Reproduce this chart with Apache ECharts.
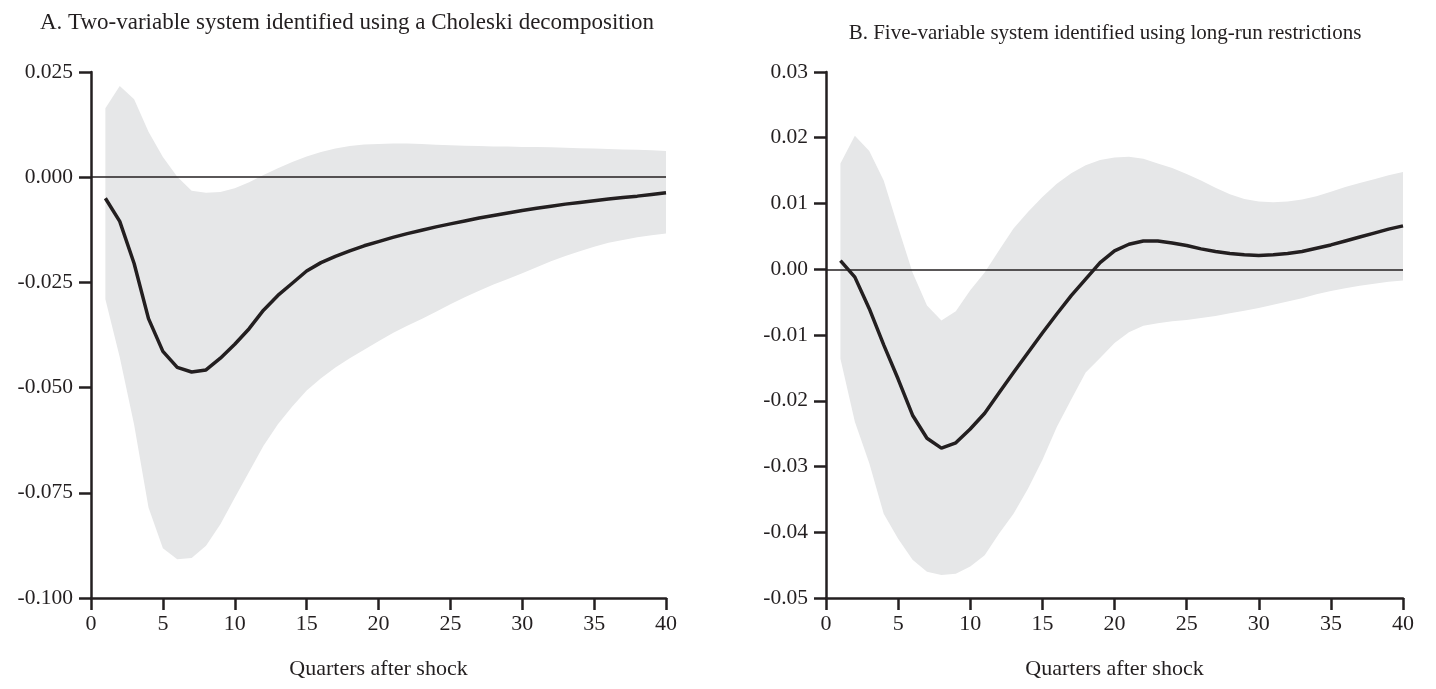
<!DOCTYPE html>
<html>
<head>
<meta charset="utf-8">
<script src="https://cdn.jsdelivr.net/npm/echarts@6/dist/echarts.min.js"></script>
<style>
html,body{margin:0;padding:0;background:#fff;}
#c{width:1436px;height:689px;}
</style>
</head>
<body>
<div id="c"></div>
<script>
// Quarters after shock
const quarters = [1,2,3,4,5,6,7,8,9,10,11,12,13,14,15,16,17,18,19,20,21,22,23,24,25,26,27,28,29,30,31,32,33,34,35,36,37,38,39,40];

// Panel A: two-variable system (Choleski)
const meanA = [-0.0050,-0.0105,-0.0205,-0.0336,-0.0414,-0.0452,-0.0463,-0.0458,-0.0430,-0.0397,-0.0360,-0.0316,-0.0281,-0.0252,-0.0223,-0.0203,-0.0188,-0.0175,-0.0163,-0.0153,-0.0143,-0.0134,-0.0126,-0.0118,-0.0111,-0.0104,-0.0097,-0.0091,-0.0085,-0.0079,-0.0074,-0.0069,-0.0064,-0.0060,-0.0056,-0.0052,-0.0048,-0.0045,-0.0041,-0.0037];
const upperA = [0.0164,0.0217,0.0185,0.0108,0.0048,0.0001,-0.0032,-0.0037,-0.0035,-0.0026,-0.0012,0.0005,0.0021,0.0036,0.0049,0.0060,0.0068,0.0074,0.0078,0.0079,0.0080,0.0080,0.0079,0.0077,0.0076,0.0075,0.0074,0.0073,0.0073,0.0072,0.0072,0.0071,0.0070,0.0069,0.0068,0.0067,0.0066,0.0065,0.0064,0.0062];
const lowerA = [-0.0290,-0.0428,-0.0588,-0.0785,-0.0882,-0.0908,-0.0905,-0.0876,-0.0825,-0.0762,-0.0700,-0.0638,-0.0587,-0.0545,-0.0507,-0.0478,-0.0452,-0.0430,-0.0410,-0.0390,-0.0370,-0.0353,-0.0337,-0.0320,-0.0302,-0.0285,-0.0270,-0.0255,-0.0242,-0.0228,-0.0214,-0.0200,-0.0187,-0.0176,-0.0165,-0.0156,-0.0149,-0.0143,-0.0138,-0.0134];

// Panel B: five-variable system (long-run restrictions)
const meanB = [0.0013,-0.0012,-0.0060,-0.0115,-0.0167,-0.0222,-0.0257,-0.0272,-0.0264,-0.0243,-0.0219,-0.0188,-0.0157,-0.0127,-0.0097,-0.0068,-0.0040,-0.0015,0.0010,0.0028,0.0038,0.0043,0.0043,0.0040,0.0036,0.0031,0.0027,0.0024,0.0022,0.0021,0.0022,0.0024,0.0027,0.0032,0.0037,0.0043,0.0049,0.0055,0.0061,0.0066];
const upperB = [0.0161,0.0203,0.0180,0.0135,0.0064,-0.0005,-0.0055,-0.0078,-0.0064,-0.0032,-0.0005,0.0029,0.0062,0.0087,0.0110,0.0130,0.0146,0.0158,0.0166,0.0170,0.0171,0.0168,0.0161,0.0154,0.0145,0.0135,0.0124,0.0114,0.0107,0.0103,0.0102,0.0103,0.0106,0.0111,0.0118,0.0125,0.0131,0.0137,0.0143,0.0148];
const lowerB = [-0.0136,-0.0232,-0.0295,-0.0372,-0.0410,-0.0442,-0.0460,-0.0465,-0.0463,-0.0452,-0.0435,-0.0402,-0.0372,-0.0334,-0.0290,-0.0240,-0.0198,-0.0157,-0.0135,-0.0112,-0.0096,-0.0086,-0.0082,-0.0079,-0.0077,-0.0074,-0.0071,-0.0067,-0.0063,-0.0059,-0.0054,-0.0049,-0.0044,-0.0038,-0.0033,-0.0029,-0.0025,-0.0022,-0.0019,-0.0017];

const titleA = 'A. Two-variable system identified using a Choleski decomposition';
const titleB = 'B. Five-variable system identified using long-run restrictions';
const xName = 'Quarters after shock';

const FONT = '"Liberation Serif", "DejaVu Serif", serif';
const INK = '#231f20';
const BAND = '#e6e7e8';

function pairs(xs, ys){ return xs.map((x,i)=>[x, ys[i]]); }

function xAxis(idx){
  return {
    type:'value', gridIndex: idx, min:0, max:40, interval:5,
    name: xName, nameLocation:'middle', nameGap: 60,
    nameTextStyle:{fontFamily:FONT, fontSize:22, color:INK},
    axisLine:{onZero:false, lineStyle:{color:INK, width:2.5}},
    axisTick:{length:12, lineStyle:{color:INK, width:2.5}},
    axisLabel:{fontFamily:FONT, fontSize:22, color:INK, margin:15},
    splitLine:{show:false}
  };
}
function yAxis(idx, min, max, interval, dec){
  return {
    type:'value', gridIndex: idx, min:min, max:max, interval:interval,
    axisLine:{show:true, onZero:false, lineStyle:{color:INK, width:2.5}},
    axisTick:{show:true, length:12, lineStyle:{color:INK, width:2.5}},
    axisLabel:{fontFamily:FONT, fontSize:21.5, color:INK, margin:18,
      formatter: v => v.toFixed(dec)},
    splitLine:{show:false}
  };
}

function bandSeries(idx, upper, lower){
  return {
    type:'custom', xAxisIndex:idx, yAxisIndex:idx, silent:true, z:1,
    data: quarters.map((q,i)=>[q, lower[i], upper[i]]),
    encode:{x:0, y:[1,2]},
    renderItem: function(params, api){
      if (params.dataIndex !== 0) return null;
      const pts = [];
      for (let i = 0; i < quarters.length; i++) pts.push(api.coord([quarters[i], upper[i]]));
      for (let i = quarters.length - 1; i >= 0; i--) pts.push(api.coord([quarters[i], lower[i]]));
      return {type:'polygon', shape:{points:pts}, style:{fill:BAND, stroke:null}};
    }
  };
}

function panelSeries(idx, mean, upper, lower){
  return [
    bandSeries(idx, upper, lower),
    {type:'line', xAxisIndex:idx, yAxisIndex:idx, data: pairs(quarters, mean),
     symbol:'none', lineStyle:{color:INK, width:3.5}, z:5,
     markLine:{silent:true, symbol:['none','none'], label:{show:false},
       lineStyle:{color:INK, width:1.5, type:'solid'},
       data:[{yAxis:0}], z:3}}
  ];
}

const chart = echarts.init(document.getElementById('c'), null, {renderer:'canvas'});
chart.setOption({
  animation:false,
  backgroundColor:'#fff',
  title:[
    {text:titleA, left:342, top:6, textAlign:'center',
     textStyle:{fontFamily:FONT, fontSize:23, fontWeight:'normal', color:INK}},
    {text:titleB, left:1100, top:18, textAlign:'center',
     textStyle:{fontFamily:FONT, fontSize:21, fontWeight:'normal', color:INK}}
  ],
  grid:[
    {left:91, top:72, width:575, height:526},
    {left:826, top:72, width:577, height:526}
  ],
  xAxis:[xAxis(0), xAxis(1)],
  yAxis:[yAxis(0,-0.1,0.025,0.025,3), yAxis(1,-0.05,0.03,0.01,2)],
  series:[].concat(
    panelSeries(0, meanA, upperA, lowerA),
    panelSeries(1, meanB, upperB, lowerB)
  )
});
</script>
</body>
</html>
